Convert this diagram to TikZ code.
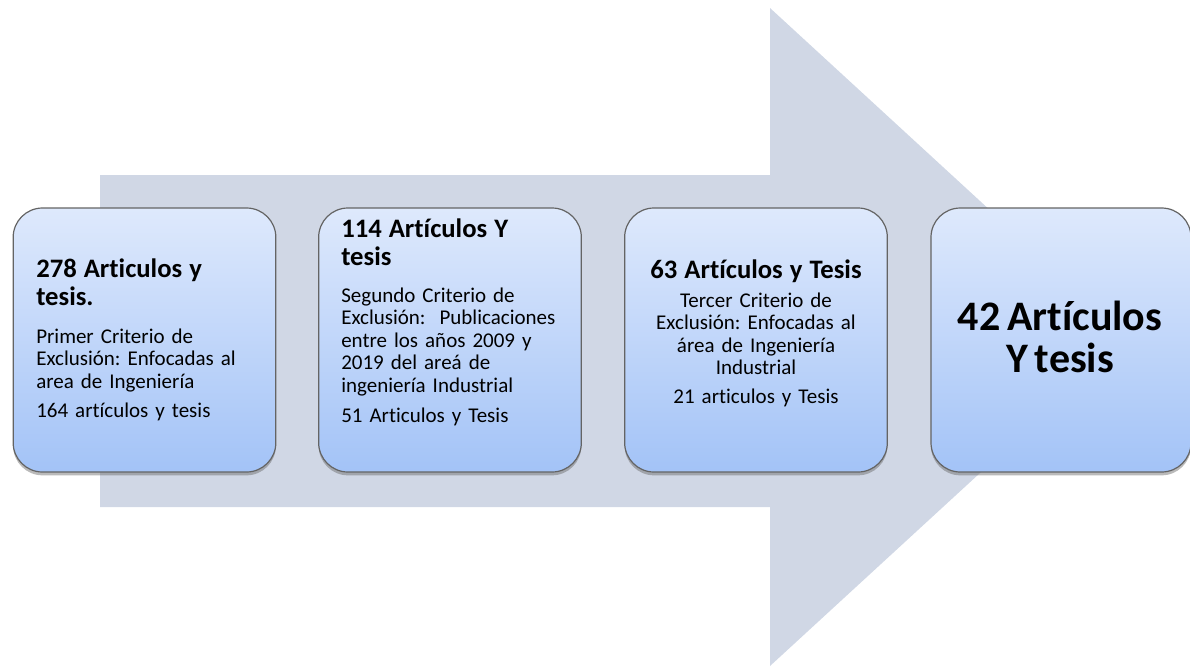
\documentclass[tikz,border=0pt]{standalone}
\usepackage{fontspec}
\setmainfont{Carlito}[Ligatures=CommonOff]
\usetikzlibrary{shadows}
\frenchspacing
\definecolor{arrowgray}{RGB}{208,215,229}
\definecolor{boxtop}{RGB}{222,233,252}
\definecolor{boxbot}{RGB}{163,195,247}
\definecolor{boxline}{RGB}{100,100,100}
\newcommand\titfont{\fontsize{20}{21}\selectfont\bfseries}
\newcommand\bodfont{\fontsize{15.75}{16.9}\selectfont}
\newcommand\bigfont{\fontsize{31.5}{31.5}\selectfont\bfseries}
\tikzset{
  stagebox/.style={draw=boxline, line width=0.9pt, rounded corners=22pt,
    top color=boxtop, bottom color=boxbot,
    minimum width=197pt, minimum height=198pt, inner sep=0pt,
    drop shadow={shadow xshift=0pt, shadow yshift=-2.5pt, opacity=0.45, fill=black!60}},
  stagetext/.style={inner sep=0pt, text width=#1, font=\bodfont},
}
\begin{document}
\begin{tikzpicture}[x=0.75pt,y=-0.75pt]
\useasboundingbox (0,0) rectangle (1190,669);
% big arrow
\fill[arrowgray] (100,175) -- (770,175) -- (770,8) -- (1128,337) -- (770,666) -- (770,507) -- (100,507) -- cycle;
% boxes
\node[stagebox] (b1) at (144.5,340) {};
\node[stagebox] (b2) at (450,340) {};
\node[stagebox] (b3) at (756,340) {};
\node[stagebox, minimum width=195pt] (b4) at (1061,340) {};
% texts
\node[stagetext=185pt, align=left, anchor=base west] (t1) at (36,277)
 {{\titfont 278 Articulos y\\ tesis.\par}\vspace{11.6pt}
  Primer Criterio de\\ Exclusión: Enfocadas al\\ area de Ingeniería\par\vspace{4.9pt}
  164 artículos y tesis\par};
\node[stagetext=185pt, align=left, anchor=base west] (t2) at (341,237)
 {{\titfont 114 Artículos Y\\ tesis\par}\vspace{10.9pt}
  Segundo Criterio de\\ Exclusión:\ \ Publicaciones\\ entre los años 2009 y\\ 2019 del areá de\\ ingeniería Industrial\par\vspace{5.5pt}
  51 Articulos y Tesis\par};
\node[stagetext=190pt, align=center, anchor=base] (t3) at (756,278)
 {{\titfont 63 Artículos y Tesis\par}\vspace{4.9pt}
  Tercer Criterio de\\ Exclusión: Enfocadas al\\ área de Ingeniería\\ Industrial\par\vspace{5pt}
  21 articulos y Tesis\par};
\node[stagetext=190pt, align=center, anchor=base] (t4) at (1060,330)
 {\bigfont 42 Artículos\\ Y tesis\par};
\end{tikzpicture}
\end{document}
